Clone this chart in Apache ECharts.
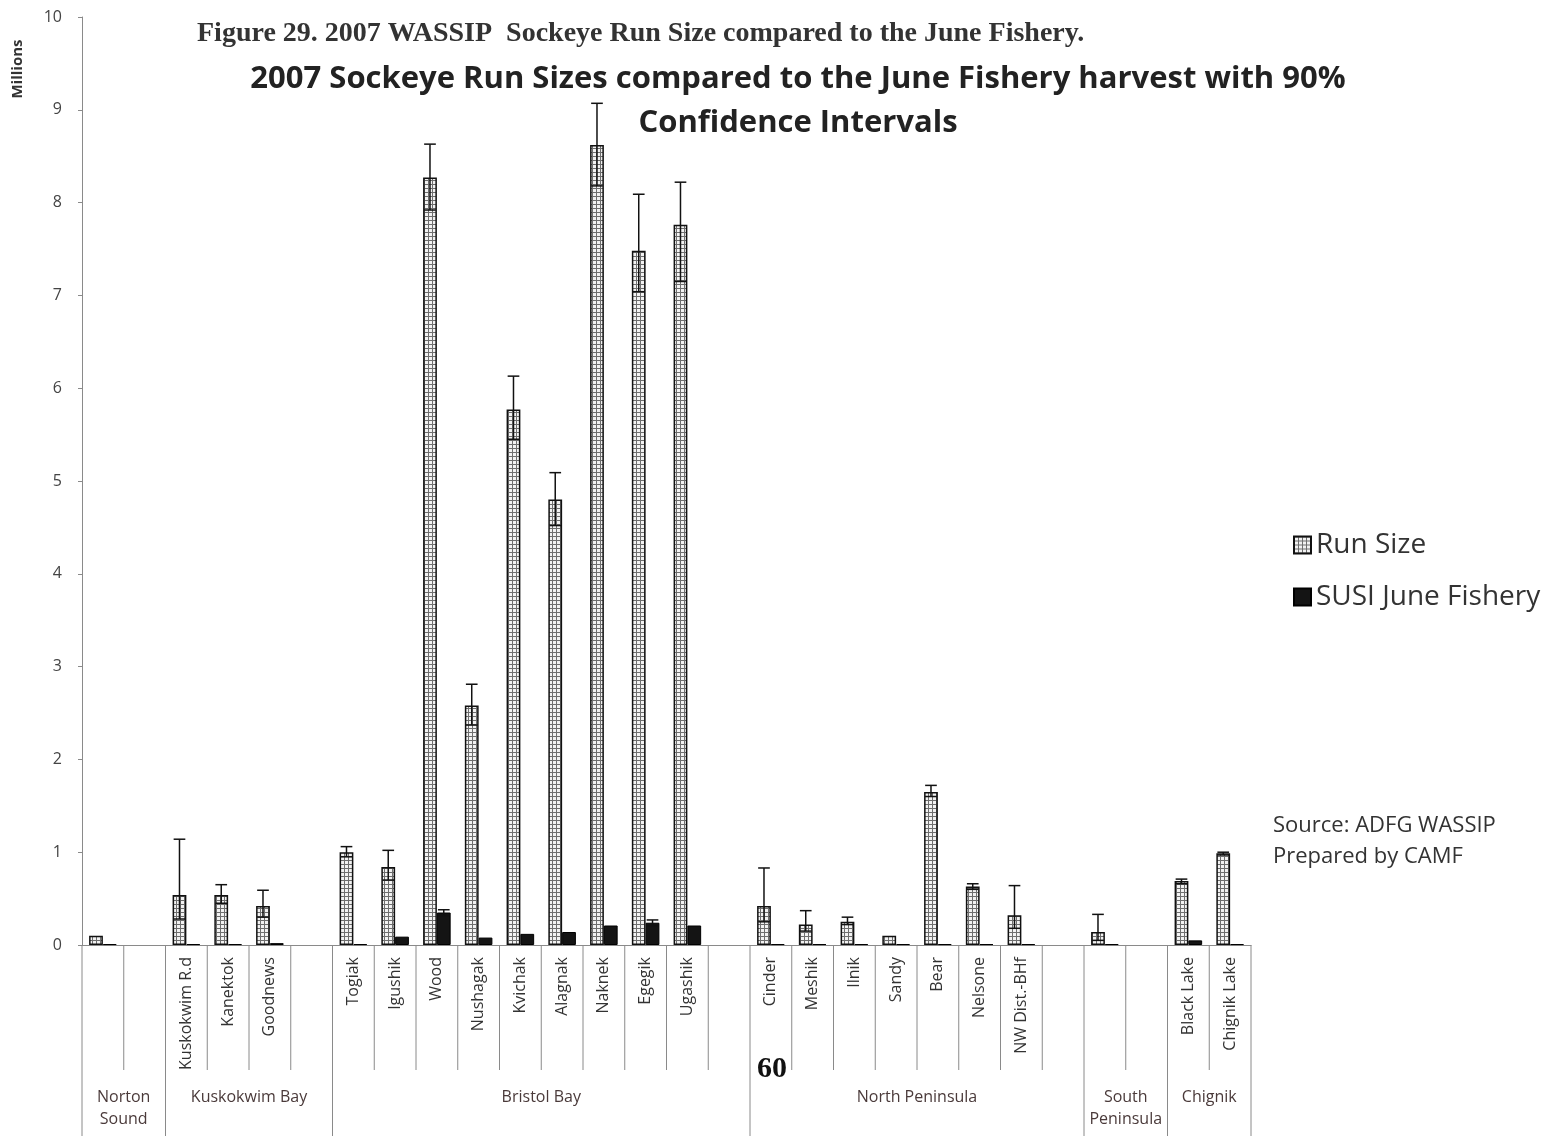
<!DOCTYPE html>
<html>
<head>
<meta charset="utf-8">
<script src="https://cdn.jsdelivr.net/npm/echarts@6/dist/echarts.min.js"></script>
<style>
html,body{margin:0;padding:0;background:#fff;}
#chart{width:1562px;height:1136px;}
</style>
</head>
<body>
<div id="chart"></div>
<script>
// ---- data (Millions) ----
var categories = ['_a', '_b', 'Kuskokwim R.d', 'Kanektok', 'Goodnews', '_c',
  'Togiak', 'Igushik', 'Wood', 'Nushagak', 'Kvichak', 'Alagnak', 'Naknek', 'Egegik', 'Ugashik', '_d',
  'Cinder', 'Meshik', 'Ilnik', 'Sandy', 'Bear', 'Nelsone', 'NW Dist.-BHf', '_e',
  '_f', '_g', 'Black Lake', 'Chignik Lake'];
var runSize = [0.10, null, 0.54, 0.54, 0.42, null,
  1.00, 0.84, 8.27, 2.58, 5.77, 4.80, 8.62, 7.48, 7.76, null,
  0.42, 0.22, 0.25, 0.10, 1.65, 0.63, 0.32, null,
  0.14, null, 0.69, 0.99];
var runLow = [null, null, 0.28, 0.45, 0.30, null,
  0.95, 0.70, 7.92, 2.37, 5.45, 4.52, 8.18, 7.04, 7.15, null,
  0.25, 0.15, 0.22, null, 1.60, 0.60, 0.18, null,
  0.05, null, 0.66, 0.97];
var runHigh = [null, null, 1.14, 0.65, 0.59, null,
  1.06, 1.02, 8.63, 2.81, 6.13, 5.09, 9.07, 8.09, 8.22, null,
  0.83, 0.37, 0.30, null, 1.72, 0.66, 0.64, null,
  0.33, null, 0.71, 1.00];
var juneFishery = [0.01, null, 0.01, 0.01, 0.02, null,
  0.01, 0.09, 0.35, 0.08, 0.12, 0.14, 0.21, 0.24, 0.21, null,
  0.01, 0.01, 0.01, 0.01, 0.01, 0.01, 0.01, null,
  0.01, null, 0.05, 0.01];
var juneLow = [null, null, null, null, null, null,
  null, null, 0.32, null, null, null, null, 0.21, null, null,
  null, null, null, null, null, null, null, null,
  null, null, null, null];
var juneHigh = [null, null, null, null, null, null,
  null, null, 0.38, null, null, null, null, 0.27, null, null,
  null, null, null, null, null, null, null, null,
  null, null, null, null];
var groupNames = ['Norton\nSound', 'Kuskokwim Bay', 'Bristol Bay', 'North Peninsula', 'South\nPeninsula', 'Chignik'];
var groupStart = [0, 2, 6, 16, 24, 26];
var groupEnd = [1, 5, 15, 23, 25, 27];
var yTicks = [0, 1, 2, 3, 4, 5, 6, 7, 8, 9, 10];

// ---- pattern for Run Size ----
var pc = document.createElement('canvas');
pc.width = 4; pc.height = 4;
var ctx = pc.getContext('2d');
ctx.fillStyle = '#6e6e6e';
ctx.fillRect(0, 0, 4, 4);
ctx.fillStyle = '#f2f2f2';
ctx.fillRect(1, 1, 3, 3);

var SANS = '"Open Sans", Lato, sans-serif';
var BAR_FRAC = 0.33;

function errData(low, high, side) {
  var out = [];
  for (var i = 0; i < categories.length; i++) {
    if (high[i] != null) out.push([i, low[i], high[i], side]);
  }
  return out;
}
function errRender(params, api) {
  var i = api.value(0);
  var band = api.size([1, 0])[0];
  var side = api.value(3);
  var x = api.coord([i, 0])[0] + side * band * BAR_FRAC / 2;
  var yl = api.coord([i, api.value(1)])[1];
  var yh = api.coord([i, api.value(2)])[1];
  var hw = band * 0.14;
  var st = {stroke: '#111', lineWidth: 1.5};
  return {type: 'group', children: [
    {type: 'line', shape: {x1: x, y1: yl, x2: x, y2: yh}, style: st},
    {type: 'line', shape: {x1: x - hw, y1: yh, x2: x + hw, y2: yh}, style: st},
    {type: 'line', shape: {x1: x - hw, y1: yl, x2: x + hw, y2: yl}, style: st}
  ]};
}
var groupData = groupNames.map(function (n, k) { return [groupStart[k], groupEnd[k], k]; });
function groupRender(params, api) {
  var s = api.value(0), e = api.value(1), k = api.value(2);
  var band = api.size([1, 0])[0];
  var p0 = api.coord([s, 0]);
  var p1 = api.coord([e, 0]);
  var xl = p0[0] - band / 2, xr = p1[0] + band / 2;
  var y0 = p0[1];
  var st = {stroke: '#8a8a8a', lineWidth: 1};
  var ch = [
    {type: 'line', shape: {x1: xl, y1: y0, x2: xl, y2: y0 + 200}, style: st},
    {type: 'text', x: (xl + xr) / 2, y: y0 + 141, style: {
      text: groupNames[k], fill: '#4a3a3a', font: '16px ' + SANS,
      align: 'center', verticalAlign: 'top', lineHeight: 22}}
  ];
  for (var j = s + 1; j <= e; j++) {
    var xj = api.coord([j, 0])[0] - band / 2;
    ch.push({type: 'line', shape: {x1: xj, y1: y0, x2: xj, y2: y0 + 125}, style: st});
  }
  if (k === groupNames.length - 1) {
    ch.push({type: 'line', shape: {x1: xr, y1: y0, x2: xr, y2: y0 + 200}, style: st});
  }
  return {type: 'group', children: ch};
}

var chart = echarts.init(document.getElementById('chart'), null, {renderer: 'canvas'});
chart.setOption({
  animation: false,
  backgroundColor: '#fff',
  title: [
    {text: 'Figure 29. 2007 WASSIP  Sockeye Run Size compared to the June Fishery.',
     left: 192, top: 15,
     textStyle: {fontFamily: '"Liberation Serif", serif', fontWeight: 'bold', fontSize: 28, color: '#333'}},
    {text: '2007 Sockeye Run Sizes compared to the June Fishery harvest with 90%\nConfidence Intervals',
     left: 793, top: 52, textAlign: 'center',
     textStyle: {fontFamily: SANS, fontWeight: 'bold', fontSize: 31, lineHeight: 44, color: '#222'}}
  ],
  legend: {
    data: ['Run Size', 'SUSI June Fishery'],
    orient: 'vertical', left: 1288, top: 526,
    itemWidth: 17, itemHeight: 17, itemGap: 24,
    textStyle: {fontFamily: SANS, fontSize: 28, color: '#333'},
    icon: 'rect'
  },
  grid: {left: 82, right: 311, top: 17, bottom: 191, containLabel: false},
  xAxis: {
    type: 'category', data: categories,
    axisLine: {lineStyle: {color: '#8a8a8a', width: 1}},
    axisTick: {show: false},
    axisLabel: {
      interval: 0, rotate: 90, margin: 12,
      fontFamily: SANS, fontSize: 16, color: '#333',
      formatter: function (v) { return v.charAt(0) === '_' ? '' : v; }
    }
  },
  yAxis: {
    type: 'value', min: 0, max: 10, interval: 1,
    splitLine: {show: false},
    axisLine: {show: true, lineStyle: {color: '#8a8a8a'}},
    axisTick: {show: true, length: 4, lineStyle: {color: '#8a8a8a'}},
    axisLabel: {margin: 20, fontFamily: SANS, fontSize: 16, color: '#444',
      formatter: function (v) { return yTicks.indexOf(v) >= 0 ? String(v) : ''; }}
  },
  graphic: [
    {type: 'text', x: 18, y: 69, rotation: Math.PI / 2,
     style: {text: 'Millions', font: 'bold 15px ' + SANS, fill: '#333', align: 'center', verticalAlign: 'middle'}},
    {type: 'text', left: 757, top: 1054, style: {text: '60', font: 'bold 30px "Liberation Serif", serif', fill: '#111'}},
    {type: 'text', left: 1273, top: 810, style: {text: 'Source: ADFG WASSIP\nPrepared by CAMF',
      font: '22px ' + SANS, fill: '#333', lineHeight: 31}}
  ],
  series: [
    {name: 'Run Size', type: 'bar', data: runSize, barWidth: '33%', barGap: '0%',
     itemStyle: {color: {image: pc, repeat: 'repeat'}, borderColor: '#111', borderWidth: 1.5}},
    {name: 'SUSI June Fishery', type: 'bar', data: juneFishery, barWidth: '33%', barGap: '0%',
     itemStyle: {color: '#141414', borderColor: '#000', borderWidth: 1}},
    {name: 'runErr', type: 'custom', renderItem: errRender, data: errData(runLow, runHigh, -1), z: 5,
     encode: {x: 0, y: [1, 2]}},
    {name: 'juneErr', type: 'custom', renderItem: errRender, data: errData(juneLow, juneHigh, 1), z: 5,
     encode: {x: 0, y: [1, 2]}},
    {name: 'groups', type: 'custom', renderItem: groupRender, data: groupData, clip: false,
     encode: {x: 0}, silent: true}
  ]
});
</script>
</body>
</html>
